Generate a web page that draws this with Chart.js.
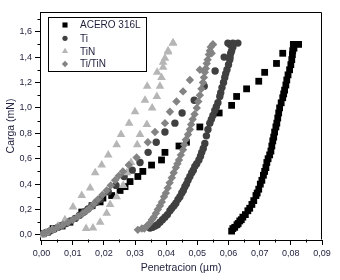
<!DOCTYPE html>
<html><head><meta charset="utf-8">
<script src="https://cdn.jsdelivr.net/npm/chart.js@4/dist/chart.umd.min.js"></script>
<style>html,body{margin:0;padding:0;background:#fff}canvas{display:block}</style>
</head><body>
<canvas id="c" width="340" height="280"></canvas>
<script>
const xTicks = [0, 0.01, 0.02, 0.03, 0.04, 0.05, 0.06, 0.07, 0.08, 0.09];
const yTicks = [0, 0.2, 0.4, 0.6, 0.8, 1.0, 1.2, 1.4, 1.6];
const seriesNames = ['ACERO 316L', 'Ti', 'TiN', 'Ti/TiN'];
const xTitle = 'Penetracion (µm)';
const yTitle = 'Carga (mN)';

const aceroLoad = [[0.0005,0.01],[0.0018,0.02],[0.0037,0.05],[0.0066,0.07],[0.0091,0.10],[0.0129,0.18],[0.0162,0.23],[0.0188,0.26],[0.0197,0.29],[0.0225,0.31],[0.0252,0.35],[0.0268,0.38],[0.0284,0.42],[0.0309,0.46],[0.0325,0.50],[0.0353,0.55],[0.0385,0.59],[0.0396,0.65],[0.0441,0.70],[0.0465,0.73],[0.0508,0.85],[0.0570,0.96],[0.0610,1.02],[0.0626,1.09],[0.0658,1.15],[0.0697,1.21],[0.0716,1.28],[0.0754,1.35],[0.0774,1.43],[0.0808,1.50]];
const aceroUnload = [[0.0825,1.50],[0.0810,1.47],[0.0806,1.45],[0.0805,1.42],[0.0803,1.38],[0.0800,1.34],[0.0796,1.30],[0.0791,1.26],[0.0787,1.22],[0.0784,1.18],[0.0780,1.14],[0.0777,1.11],[0.0774,1.08],[0.0769,1.04],[0.0764,1.00],[0.0761,0.96],[0.0758,0.92],[0.0755,0.88],[0.0752,0.85],[0.0748,0.81],[0.0745,0.77],[0.0742,0.74],[0.0739,0.70],[0.0736,0.66],[0.0732,0.63],[0.0727,0.60],[0.0723,0.57],[0.0720,0.53],[0.0716,0.50],[0.0712,0.47],[0.0707,0.43],[0.0702,0.40],[0.0697,0.36],[0.0692,0.33],[0.0688,0.31],[0.0681,0.27],[0.0675,0.24],[0.0668,0.21],[0.0662,0.19],[0.0654,0.16],[0.0646,0.14],[0.0641,0.12],[0.0636,0.11],[0.0631,0.09],[0.0627,0.08],[0.0620,0.06],[0.0614,0.05],[0.0610,0.03]];

const tiLoad = [[0.0005,0.01],[0.0016,0.02],[0.0027,0.03],[0.0040,0.045],[0.0053,0.06],[0.0066,0.075],[0.0079,0.09],[0.0093,0.11],[0.0108,0.13],[0.0122,0.155],[0.0136,0.18],[0.0149,0.205],[0.0162,0.23],[0.0175,0.255],[0.0188,0.28],[0.0214,0.34],[0.0239,0.39],[0.0265,0.46],[0.0291,0.51],[0.0316,0.57],[0.0342,0.65],[0.0368,0.73],[0.0396,0.81],[0.0428,0.88],[0.0451,0.96],[0.0490,1.06],[0.0522,1.17],[0.0557,1.29],[0.0586,1.40]];
const tiUnload = [[0.0630,1.51],[0.0614,1.51],[0.0598,1.51],[0.0605,1.50],[0.0614,1.48],[0.0610,1.45],[0.0607,1.43],[0.0605,1.40],[0.0604,1.38],[0.0600,1.34],[0.0595,1.30],[0.0591,1.27],[0.0588,1.24],[0.0584,1.20],[0.0579,1.16],[0.0575,1.12],[0.0572,1.09],[0.0566,1.04],[0.0561,1.01],[0.0556,0.98],[0.0550,0.94],[0.0545,0.91],[0.0540,0.88],[0.0534,0.83],[0.0529,0.78],[0.0524,0.72],[0.0519,0.68],[0.0514,0.65],[0.0510,0.62],[0.0505,0.59],[0.0498,0.56],[0.0492,0.54],[0.0487,0.51],[0.0482,0.49],[0.0476,0.46],[0.0470,0.43],[0.0465,0.40],[0.0460,0.38],[0.0455,0.35],[0.0450,0.33],[0.0444,0.30],[0.0438,0.28],[0.0431,0.25],[0.0425,0.23],[0.0418,0.21],[0.0412,0.19],[0.0404,0.16],[0.0396,0.14],[0.0388,0.12],[0.0380,0.10],[0.0372,0.08],[0.0364,0.07],[0.0356,0.06],[0.0348,0.055]];

const tinLoad = [[0.0002,0.00],[0.0014,0.016],[0.0034,0.04],[0.0053,0.07],[0.0075,0.12],[0.0101,0.22],[0.0129,0.31],[0.0156,0.37],[0.0172,0.49],[0.0193,0.55],[0.0214,0.63],[0.0241,0.71],[0.0255,0.79],[0.0281,0.88],[0.0300,0.97],[0.0332,1.06],[0.0339,1.17],[0.0371,1.28],[0.0390,1.36],[0.0406,1.44],[0.0422,1.51]];
const tinUnload = [[0.0422,1.51],[0.0406,1.45],[0.0396,1.39],[0.0390,1.32],[0.0385,1.24],[0.0380,1.17],[0.0370,1.09],[0.0355,1.00],[0.0338,0.87],[0.0316,0.79],[0.0307,0.71],[0.0287,0.57],[0.0274,0.49],[0.0262,0.39],[0.0241,0.30],[0.0220,0.24],[0.0209,0.17],[0.0188,0.10],[0.0165,0.055],[0.0143,0.05]];

const titinLoad = [[0.0005,0.01],[0.0011,0.016],[0.0024,0.03],[0.0037,0.04],[0.0052,0.06],[0.0069,0.08],[0.0085,0.10],[0.0101,0.12],[0.0117,0.145],[0.0133,0.17],[0.0145,0.19],[0.0155,0.21],[0.0168,0.245],[0.0181,0.28],[0.0195,0.315],[0.0209,0.35],[0.0222,0.39],[0.0236,0.43],[0.0248,0.465],[0.0261,0.50],[0.0280,0.55],[0.0305,0.61],[0.0341,0.73],[0.0364,0.81],[0.0396,0.88],[0.0412,0.97],[0.0433,1.05],[0.0454,1.13],[0.0476,1.22],[0.0508,1.30],[0.0546,1.43],[0.0550,1.50]];
const titinUnload = [[0.0550,1.50],[0.0543,1.48],[0.0540,1.45],[0.0537,1.42],[0.0533,1.38],[0.0530,1.35],[0.0527,1.31],[0.0524,1.28],[0.0521,1.24],[0.0518,1.20],[0.0513,1.15],[0.0508,1.10],[0.0503,1.05],[0.0498,1.00],[0.0491,0.95],[0.0485,0.91],[0.0480,0.87],[0.0476,0.83],[0.0470,0.79],[0.0463,0.75],[0.0458,0.71],[0.0454,0.67],[0.0447,0.63],[0.0441,0.59],[0.0436,0.56],[0.0431,0.53],[0.0424,0.49],[0.0418,0.45],[0.0411,0.41],[0.0405,0.37],[0.0399,0.33],[0.0393,0.30],[0.0386,0.26],[0.0380,0.23],[0.0373,0.20],[0.0367,0.17],[0.0360,0.14],[0.0354,0.12],[0.0346,0.09],[0.0338,0.07],[0.0330,0.05],[0.0322,0.05],[0.0309,0.04]];

const toPts = (a, b) => a.concat(b).map(p => ({x: p[0], y: p[1]}));
const styles = [
  {color: '#000000', shape: 'rect', r: 4.8, lr: 3.6},
  {color: '#404040', shape: 'circle', r: 3.7, lr: 2.6},
  {color: '#b6b6b6', shape: 'triangle', r: 5, lr: 3.6},
  {color: '#838383', shape: 'rectRot', r: 4.2, lr: 3.2}
];
const seriesData = [toPts(aceroLoad, aceroUnload), toPts(tiLoad, tiUnload), toPts(tinLoad, tinUnload), toPts(titinLoad, titinUnload)];

const FONT = "'Liberation Sans', Arial, sans-serif";
const TXT = '#1e1e3c';
const fmt = (v, d) => Number(v).toFixed(d).replace('.', ',');

function drawMarker(ctx, shape, r, x, y, color) {
  ctx.save();
  ctx.fillStyle = color;
  if (Chart.helpers && Chart.helpers.drawPoint) {
    Chart.helpers.drawPoint(ctx, {pointStyle: shape, radius: r, rotation: 0, borderWidth: 0}, x, y);
  } else {
    ctx.beginPath(); ctx.arc(x, y, r, 0, Math.PI * 2); ctx.fill();
  }
  ctx.restore();
}

const decor = {
  id: 'decor',
  afterDraw(chart) {
    const ctx = chart.ctx, a = chart.chartArea, xs = chart.scales.x, ys = chart.scales.y;
    ctx.save();
    ctx.strokeStyle = '#000'; ctx.lineWidth = 1;
    ctx.beginPath();
    const L = Math.round(a.left) + 0.5, R = Math.round(a.right) - 0.5, T = Math.round(a.top) + 0.5, B = Math.round(a.bottom) - 0.5;
    ctx.moveTo(L, T); ctx.lineTo(R, T); ctx.lineTo(R, B);
    for (let i = 0; i < xTicks.length - 1; i++) {
      const px = Math.round(xs.getPixelForValue((xTicks[i] + xTicks[i + 1]) / 2)) + 0.5;
      ctx.moveTo(px, B); ctx.lineTo(px, B + 3);
    }
    for (let i = 0; i < yTicks.length; i++) {
      const v = yTicks[i] + 0.1;
      const py = Math.round(ys.getPixelForValue(v)) + 0.5;
      if (py < a.top) continue;
      ctx.moveTo(L, py); ctx.lineTo(L - 3, py);
    }
    ctx.stroke();
    const bx = 48.5, by = 17.5, bw = 98, bh = 54;
    ctx.fillStyle = '#fff';
    ctx.fillRect(bx, by, bw, bh);
    ctx.strokeRect(bx, by, bw, bh);
    ctx.font = '10px ' + FONT;
    ctx.textBaseline = 'middle';
    const rows = [25, 38.3, 51.3, 64];
    seriesNames.forEach((name, i) => {
      drawMarker(ctx, styles[i].shape, styles[i].lr, 65, rows[i], styles[i].color);
      ctx.fillStyle = TXT;
      ctx.fillText(name, 80, rows[i] + 0.5);
    });
    ctx.restore();
  }
};

new Chart(document.getElementById('c'), {
  type: 'scatter',
  data: {
    datasets: seriesNames.map((name, i) => ({
      label: name,
      data: seriesData[i],
      pointStyle: styles[i].shape,
      pointRadius: styles[i].r,
      pointBackgroundColor: styles[i].color,
      pointBorderColor: styles[i].color,
      pointBorderWidth: 0,
      showLine: false,
      order: 4 - i
    }))
  },
  options: {
    responsive: false,
    animation: false,
    devicePixelRatio: 1,
    layout: {padding: {top: 12, right: 18, left: 0, bottom: 0}},
    plugins: {legend: {display: false}, tooltip: {enabled: false}},
    scales: {
      x: {
        type: 'linear', min: -0.0005, max: 0.09,
        afterFit(s) { s.height = 40; },
        afterBuildTicks(s) { s.ticks = xTicks.map(v => ({value: v})); },
        ticks: {callback: v => fmt(v, 2), font: {size: 9, family: FONT}, color: TXT, maxRotation: 0, autoSkip: false, padding: 3},
        grid: {display: true, drawOnChartArea: false, drawTicks: true, tickLength: 5, color: '#000'},
        border: {display: true, color: '#000', width: 1},
        title: {display: true, text: xTitle, font: {size: 10.5, family: FONT}, color: TXT, padding: {top: 0, bottom: 6}}
      },
      y: {
        type: 'linear', min: -0.04, max: 1.755,
        afterFit(s) { s.width = 40; },
        afterBuildTicks(s) { s.ticks = yTicks.map(v => ({value: v})); },
        ticks: {callback: v => fmt(v, 1), font: {size: 9, family: FONT}, color: TXT, autoSkip: false, padding: 3},
        grid: {display: true, drawOnChartArea: false, drawTicks: true, tickLength: 5, color: '#000'},
        border: {display: true, color: '#000', width: 1},
        title: {display: true, text: yTitle, font: {size: 10.5, family: FONT}, color: TXT, padding: {top: 5, bottom: 0}}
      }
    }
  },
  plugins: [decor]
});
</script>
</body></html>
